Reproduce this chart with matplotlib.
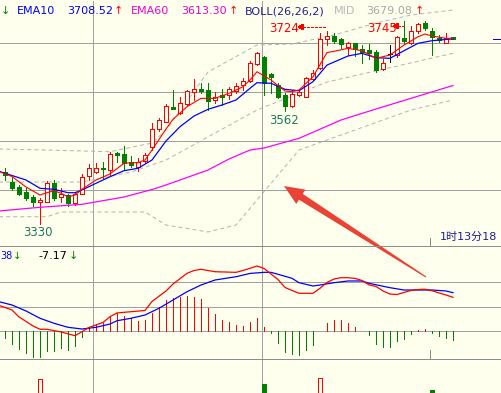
import numpy as np
import matplotlib.pyplot as plt
from matplotlib.patches import Rectangle, Polygon
from matplotlib.transforms import IdentityTransform

plt.rcParams['font.family'] = ['DejaVu Sans', 'Noto Sans CJK SC']
plt.rcParams['lines.scale_dashes'] = False
plt.rcParams['lines.antialiased'] = False
plt.rcParams['patch.antialiased'] = False

# ---- candles (one per bar, left to right) ----
opens = [3437.3, 3416.9, 3406.1, 3396.5, 3386.3, 3375.0, 3375.0, 3414.9, 3385.1, 3389.8,
         3372.9, 3391.2, 3428.6, 3437.3, 3445.5, 3440.8, 3474.9, 3473.5, 3457.8, 3447.6,
         3459.2, 3487.1, 3523.5, 3539.4, 3570.0, 3556.5, 3575.5, 3600.6, 3606.1, 3604.1,
         3583.7, 3593.9, 3593.9, 3602.6, 3613.3, 3622.4, 3657.1, 3671.4, 3636.7, 3614.1,
         3593.9, 3571.4, 3593.9, 3590.4, 3626.0, 3648.4, 3707.5, 3714.3, 3707.8, 3691.8,
         3699.4, 3688.2, 3686.3, 3682.2, 3647.6, 3677.0, 3675.5, 3711.2, 3699.4, 3725.3,
         3740.2, 3724.5, 3710.8, 3701.0, 3711.6]
highs = [3445.5, 3426.5, 3410.2, 3404.1, 3389.8, 3384.0, 3418.4, 3420.4, 3404.1, 3391.8,
         3393.9, 3432.7, 3453.1, 3454.5, 3457.8, 3478.2, 3478.2, 3489.8, 3469.4, 3465.3,
         3474.9, 3536.1, 3546.3, 3576.1, 3604.1, 3589.2, 3604.1, 3625.9, 3617.8, 3619.0,
         3600.6, 3605.9, 3610.8, 3617.8, 3628.0, 3663.9, 3682.2, 3673.5, 3639.4, 3617.8,
         3598.6, 3604.1, 3605.9, 3630.0, 3644.9, 3720.4, 3724.0, 3720.0, 3711.2, 3702.6,
         3699.4, 3696.9, 3698.0, 3685.7, 3667.8, 3695.9, 3714.5, 3745.0, 3734.7, 3741.8,
         3744.0, 3730.0, 3716.3, 3720.0, 3711.6]
lows = [3420.4, 3400.0, 3389.8, 3379.6, 3367.3, 3330.0, 3375.0, 3379.6, 3376.1, 3367.3,
        3369.4, 3391.0, 3420.4, 3435.3, 3423.9, 3430.6, 3457.8, 3440.8, 3447.6, 3438.8,
        3455.7, 3481.6, 3521.0, 3538.6, 3565.9, 3555.1, 3573.5, 3583.7, 3597.3, 3563.3,
        3576.9, 3573.5, 3585.1, 3597.3, 3604.1, 3621.0, 3655.1, 3593.9, 3597.3, 3587.1,
        3562.0, 3568.8, 3591.8, 3589.2, 3624.5, 3646.7, 3695.9, 3699.4, 3689.2, 3675.5,
        3673.5, 3658.6, 3667.8, 3640.8, 3644.9, 3661.8, 3671.4, 3701.0, 3698.0, 3720.0,
        3726.5, 3675.5, 3702.6, 3699.4, 3708.2]
closes = [3430.6, 3404.7, 3391.8, 3384.3, 3374.9, 3379.0, 3414.3, 3383.1, 3391.2, 3372.9,
          3391.2, 3425.9, 3444.3, 3444.3, 3442.7, 3473.5, 3471.4, 3454.5, 3451.0, 3457.8,
          3471.4, 3523.9, 3542.2, 3570.8, 3565.9, 3576.9, 3602.0, 3606.1, 3602.0, 3582.2,
          3589.2, 3589.2, 3605.5, 3612.2, 3622.4, 3658.6, 3679.0, 3617.8, 3630.6, 3589.8,
          3571.4, 3595.9, 3600.6, 3628.0, 3639.4, 3707.5, 3714.3, 3704.7, 3698.6, 3699.4,
          3687.1, 3682.2, 3680.6, 3644.3, 3658.2, 3677.0, 3711.8, 3703.1, 3723.9, 3737.8,
          3730.0, 3712.2, 3705.5, 3710.8, 3708.2]

# ---- moving averages (bar index, value) ----
ema5_idx = [-1, 1, 3, 5, 6, 7, 8, 9, 10, 11, 13, 15, 17, 18, 19, 20, 21, 23, 24, 26, 28, 30,
            32, 34, 35, 36, 38, 40, 41, 42, 44, 46, 47, 49, 51, 53, 55, 57, 59, 60, 61, 63, 64]
ema5_val = [3438.8, 3427.6, 3406.1, 3389.8, 3394.5, 3398.6, 3393.3, 3386.3, 3389.8, 3401.4,
            3420.4, 3432.7, 3454.5, 3455.7, 3455.7, 3461.2, 3481.6, 3524.5, 3544.3, 3570.0,
            3587.1, 3587.1, 3597.3, 3610.8, 3624.5, 3641.4, 3624.5, 3602.0, 3600.6, 3604.1,
            3631.2, 3680.6, 3683.0, 3689.2, 3684.3, 3668.8, 3675.5, 3695.9, 3712.8, 3718.4,
            3714.3, 3709.6, 3709.6]
ema10_idx = [-1, 3, 5, 7, 9, 10, 11, 13, 15, 17, 19, 21, 23, 25, 27, 29, 31, 33, 35, 36, 38,
             40, 42, 44, 46, 49, 51, 53, 55, 57, 59, 61, 64]
ema10_val = [3438.8, 3420.4, 3403.5, 3401.4, 3394.5, 3394.5, 3400.0, 3413.7, 3427.1, 3439.4,
             3444.3, 3461.2, 3500.0, 3529.2, 3551.0, 3564.7, 3573.5, 3583.7, 3607.6, 3619.0,
             3617.8, 3605.5, 3602.6, 3621.0, 3655.0, 3673.5, 3679.0, 3670.0, 3668.8, 3684.3,
             3699.4, 3704.7, 3708.52]
ema60_idx = [-1, 5, 11, 17, 21, 23, 29, 32, 35, 37, 42, 48, 53, 64]
ema60_val = [3357.0, 3364.7, 3370.8, 3385.7, 3401.0, 3410.2, 3440.8, 3463.3, 3481.6, 3485.7,
             3505.5, 3542.9, 3565.3, 3613.30]

# ---- BOLL(26,26,2) ----
up_idx = [-1, 6, 15, 21, 23, 29, 36, 41, 47, 53, 58, 64]
up_val = [3483.7, 3481.6, 3478.2, 3495.9, 3522.4, 3640.8, 3695.9, 3698.0, 3716.3, 3740.8,
          3757.1, 3767.3]
mid_idx = [-1, 11, 18, 23, 36, 46, 64]
mid_val = [3416.3, 3416.3, 3436.7, 3461.2, 3563.3, 3620.4, 3679.08]
low_idx = [-1, 6, 8, 20, 23, 29, 33, 42, 58, 64]
low_val = [3345.5, 3345.5, 3355.1, 3355.1, 3328.6, 3314.3, 3328.6, 3481.6, 3563.3, 3583.7]

# ---- MACD ----
dif_idx = [-1, 1, 2, 4, 5, 6, 8, 10, 11, 12, 14, 15, 16, 18, 20, 21, 23, 24, 26, 27, 28, 30,
           33, 34, 35, 36, 37, 38, 39, 40, 41, 42, 44, 45, 46, 47, 48, 49, 50, 51, 52, 53, 54,
           55, 56, 57, 58, 59, 60, 61, 62, 63, 64]
dif_val = [21.3, 17.2, 11.5, 4.1, 1.4, 1.4, -0.8, -3.9, -0.6, 2.9, 7.0, 11.7, 14.8, 15.8, 16.8,
           24.2, 32.8, 38.5, 47.3, 49.6, 50.6, 48.6, 48.1, 49.6, 51.4, 53.3, 51.3, 46.7, 42.2,
           35.7, 33.2, 30.9, 30.9, 35.0, 39.8, 42.6, 43.7, 43.7, 43.1, 41.4, 37.8, 36.5, 32.8,
           30.3, 29.9, 31.6, 33.2, 34.0, 34.2, 33.0, 31.2, 29.5, 27.6]
dea_idx = [-1, 1, 3, 5, 7, 9, 11, 13, 15, 16, 18, 20, 22, 24, 26, 28, 30, 33, 35, 37, 38, 39,
           41, 42, 44, 45, 47, 49, 51, 52, 55, 57, 59, 61, 63, 64]
dea_val = [24.2, 21.3, 16.4, 10.4, 6.3, 3.0, 1.6, 3.0, 5.7, 8.4, 10.4, 13.1, 18.6, 25.4, 32.2,
           37.7, 41.8, 44.5, 47.2, 48.1, 48.1, 46.5, 43.2, 39.6, 36.9, 37.7, 39.6, 41.0, 41.0,
           39.1, 35.5, 33.6, 33.6, 33.6, 32.8, 31.38]
macd_hist = [-6.0, -10.9, -15.0, -18.3, -21.1, -21.6, -16.2, -16.2, -14.2, -15.6,
             -12.3, -5.2, 2.2, 5.7, 6.8, 11.7, 14.5, 12.3, 10.4, 8.4,
             9.0, 15.0, 19.9, 25.4, 26.8, 27.6, 28.7, 28.1, 26.0, 18.6,
             13.9, 9.0, 7.6, 4.9, 4.1, 7.6, 10.4, 3.0, -1.4, -9.6,
             -17.0, -18.9, -19.7, -15.6, -11.5, -0.2, 6.3, 9.0, 9.0, 6.3,
             3.0, 0.2, -3.3, -10.7, -13.4, -12.9, -8.0, -6.6, -2.5, 0.6,
             1.4, -1.9, -4.1, -5.5, -7.17]

# ---- bottom panel bars (bar index, value, rising?) ----
sub_idx = [5, 37, 45, 61]
sub_val = [14, 9, 15, 3]
sub_up = [True, False, True, False]

BG = '#ffffee'
RED = '#ff0000'
GREEN = '#008000'
BLUE = '#0000ff'
MAGENTA = '#ff00ff'
GRID = '#a0a0a0'
BOLLC = '#b4b4b4'
SEP = '#8c8c8c'
LW = 0.72  # one pixel

W, H = 501, 393
fig = plt.figure(figsize=(W / 100, H / 100), dpi=100, facecolor=BG)


def panel(top, bottom):
    a = fig.add_axes([0, 1 - bottom / H, 1, (bottom - top) / H])
    a.set_facecolor(BG)
    a.set_xlim((0 - 5) / 7, (W - 5) / 7)
    a.axis('off')
    return a


ax = panel(0, 246)
ax_m = panel(246, 359)
ax_s = panel(359, 393)
ax.set_ylim(3285.7, 3787.8)
ax_m.set_ylim(-23.0, 69.7)
ax_s.set_ylim(0, 34)

dot = (0, (0.72, 0.72))
for y in [3400, 3500, 3600, 3700]:
    ax.axhline(y, color=GRID, lw=LW, ls=dot, zorder=1)
for y in [0, 20, 40]:
    ax_m.axhline(y, color=GRID, lw=LW, ls=dot, zorder=1)
for a in (ax, ax_m, ax_s):
    for xp in (93, 262):
        a.axvline((xp - 5) / 7, color=GRID, lw=LW, ls=dot, zorder=1)

# bollinger
dash = (0, (2.9, 2.2))
for xi, yv in [(up_idx, up_val), (mid_idx, mid_val), (low_idx, low_val)]:
    ax.plot(xi, yv, color=BOLLC, lw=LW, ls=dash, zorder=2, antialiased=True)

# candles
for i in range(len(opens)):
    o, h, l, c = opens[i], highs[i], lows[i], closes[i]
    if c > o:
        ax.vlines(i, c, h, color=RED, lw=LW, zorder=4)
        ax.vlines(i, l, o, color=RED, lw=LW, zorder=4)
        ax.add_patch(Rectangle((i - 0.3, o), 0.6, c - o, fc=BG, ec=RED, lw=LW, zorder=4))
    elif c < o:
        ax.vlines(i, l, h, color=GREEN, lw=LW, zorder=4)
        ax.add_patch(Rectangle((i - 0.33, c), 0.66, o - c, fc=GREEN, ec=GREEN, lw=0.5, zorder=4))
    else:
        ax.vlines(i, l, h, color='black', lw=LW, zorder=4)
        ax.hlines(o, i - 0.33, i + 0.33, color='black', lw=LW, zorder=4)

ax.plot(ema60_idx, ema60_val, color=MAGENTA, lw=0.9, zorder=5, antialiased=True)
ax.plot(ema10_idx, ema10_val, color=BLUE, lw=0.9, zorder=5, antialiased=True)
ax.plot(ema5_idx, ema5_val, color=RED, lw=0.8, zorder=5, antialiased=True)
ax.hlines(ema10_val[-1], (493 - 5) / 7, (W - 5) / 7, color=BLUE, lw=LW, zorder=5)

# macd
for i, v in enumerate(macd_hist):
    ax_m.vlines(i, 0, v, color=RED if v > 0 else GREEN, lw=LW, zorder=3)
ax_m.plot(dea_idx, dea_val, color=BLUE, lw=0.9, zorder=4, antialiased=True)
ax_m.plot(dif_idx, dif_val, color=RED, lw=0.9, zorder=4, antialiased=True)

# lower panel bars
for i, v, up in zip(sub_idx, sub_val, sub_up):
    if up:
        ax_s.add_patch(Rectangle((i - 0.35, 0), 0.7, v, fc=BG, ec=RED, lw=LW, zorder=3))
    else:
        ax_s.add_patch(Rectangle((i - 0.35, 0), 0.7, v, fc=GREEN, ec=GREEN, lw=0.5, zorder=3))

# separators
idt = IdentityTransform()
for yp in (246, 359):
    fig.add_artist(plt.Line2D([0, W], [H - yp, H - yp], color=SEP, lw=LW, transform=idt))
fig.add_artist(plt.Line2D([430, 430], [H - 246, H - 238], color=SEP, lw=LW, transform=idt))
fig.add_artist(plt.Line2D([430, 430], [H - 359, H - 350], color=SEP, lw=LW, transform=idt))


def ptext(x, y, s, color, size=8, ha='left', **kw):
    fig.text(x, H - y, s, color=color, fontsize=size, ha=ha, va='center',
             transform=idt, **kw)


# legend line
ptext(5, 11, '↓', GREEN, ha='center')
ptext(17, 11, 'EMA10', BLUE)
ptext(67, 11, f'{ema10_val[-1]:.2f}', BLUE)
ptext(118, 11, '↑', RED, ha='center')
ptext(131, 11, 'EMA60', '#ee00cc')
ptext(181, 11, f'{ema60_val[-1]:.2f}', '#ee00cc')
ptext(233, 11, '↑', RED, ha='center')
ptext(245, 11, 'BOLL(26,26,2)', '#202090')
ptext(334, 11, 'MID', '#b8b8b8')
ptext(366, 11, f'{mid_val[-1]:.2f}', '#a8a8a8')
ptext(419, 11, '↑', RED, ha='center')

# high / low marks
ptext(38, 233, f'{lows[5]:.0f}', '#1d7a5c', size=8.5, ha='center')
ptext(284, 120, f'{lows[40]:.0f}', '#1d7a5c', size=8.5, ha='center')
ptext(284, 28, f'{highs[46]:.0f}', RED, size=8.5, ha='center')
ptext(382, 28, f'{highs[57]:.0f}', RED, size=8.5, ha='center')
for x0, x1, yp in [(325, 299, 27), (404, 394, 26)]:
    fig.add_artist(plt.Line2D([x0, x1 + 4], [H - yp, H - yp], color=RED, lw=LW,
                              ls=(0, (1.5, 1.0)), transform=idt))
    fig.add_artist(Polygon([[x1, H - yp], [x1 + 4, H - yp + 2.5], [x1 + 4, H - yp - 2.5]],
                           closed=True, fc=RED, ec=RED, lw=0.5, transform=idt))

# macd header (the DEA value is cut by the left edge in the source)
ptext(0, 256, '38', BLUE, size=7)
ptext(13, 256, '↓', GREEN, size=7.5)
ptext(38, 256, f'{macd_hist[-1]:.2f}', 'black')
ptext(73, 256, '↓', GREEN, ha='center')

# countdown text
ptext(440, 237, '1时13分18', '#1c1c9c', size=8)

# big red arrow
tip = np.array([284.0, 186.0])
tail = np.array([426.0, 277.0])
u = (tip - tail) / np.linalg.norm(tip - tail)
nrm = np.array([-u[1], u[0]])
neck = tip - u * 20
pts = [tail + nrm * 0.6, neck + nrm * 3.5, neck + nrm * 8.5, tip,
       neck - nrm * 8.5, neck - nrm * 3.5, tail - nrm * 0.6]
pts = [[p[0], H - p[1]] for p in pts]
arrow = Polygon(pts, closed=True, fc='#ea4335', ec='none', transform=idt)
arrow.set_antialiased(True)
fig.add_artist(arrow)

fig.savefig('out.png', dpi=100, facecolor=BG)
